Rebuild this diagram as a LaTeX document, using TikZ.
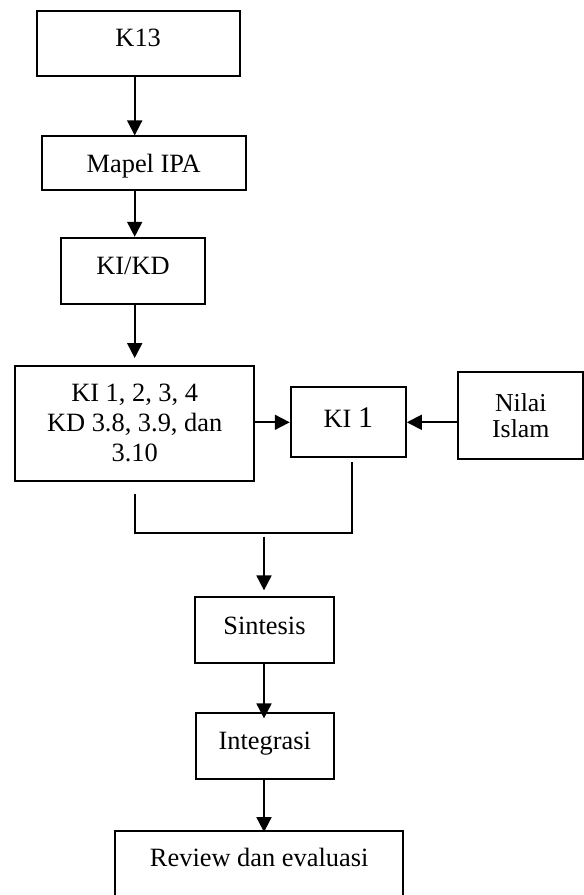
\documentclass[tikz,border=0pt]{standalone}
\usepackage{fontspec}
\setmainfont{Liberation Serif}
\usetikzlibrary{arrows.meta}

\begin{document}
\begin{tikzpicture}[x=.5pt, y=-.5pt,
    box/.style={draw, line width=.9pt, inner sep=0pt, align=center,
        font=\fontsize{13.2}{15}\selectfont},
    onebox/.style={box, text height=9pt, text depth=#1},
    onebox/.default=0pt,
    arr/.style={line width=.9pt, -{Triangle[length=7.5pt,width=7.5pt]}},
]

    \useasboundingbox (0,0) rectangle (584,895);
    \clip (0,0) rectangle (584,895);

    \node[onebox=6pt, minimum width=101.5pt, minimum height=32.8pt] (k13) at (138.2,43.5) {K13};
    \node[onebox, minimum width=102pt, minimum height=26.85pt] (mapel) at (143.7,163.2) {Mapel IPA};
    \node[onebox=5.7pt, minimum width=72.3pt, minimum height=33pt] (kikd) at (133,270.7) {KI/KD};
    \node[box, minimum width=119.65pt, minimum height=57.35pt] (kikdall) at (134.7,423.3)
        {KI 1, 2, 3, 4\\KD 3.8, 3.9, dan\\3.10};
    \node[onebox=3.5pt, minimum width=57.65pt, minimum height=35pt] (ki1) at (348.3,422.3)
        {KI {\fontsize{15}{15}\selectfont 1}};
    \node[box, font=\fontsize{12.9}{12.85}\selectfont, minimum width=62.5pt, minimum height=43.8pt]
        (nilai) at (520.8,415.5) {Nilai\\Islam};
    \node[onebox=5pt, minimum width=69.5pt, minimum height=33pt] (sintesis) at (264.5,630.3) {Sintesis};
    \node[onebox=5.5pt, minimum width=69.15pt, minimum height=32.7pt] (integrasi) at (264.8,746) {Integrasi};
    \node[onebox=9.2pt, minimum width=144.15pt, minimum height=36pt] (review) at (259.2,867)
        {Review dan evaluasi};

    \draw[arr] (k13.south -| kikdall.north) -- (mapel.north -| kikdall.north);
    \draw[arr] (mapel.south -| kikdall.north) -- (kikd.north -| kikdall.north);
    \draw[arr, shorten >=3.5pt] (kikd.south -| kikdall.north) -- (kikdall.north);
    \draw[arr] (kikdall.east |- ki1.west) -- (ki1.west);
    \draw[arr] (nilai.west |- ki1.east) -- (ki1.east);

    \coordinate (merge) at (264,533.3);
    \draw[line width=.9pt] ([yshift=-6pt]kikdall.south) |- (merge)
        -| ([xshift=2pt,yshift=-1.7pt]ki1.south);
    \draw[arr] ([yshift=-1.7pt]merge) -- ([yshift=3pt]merge |- sintesis.north);
    \draw[arr, shorten >=-3pt] (merge |- sintesis.south) -- (merge |- integrasi.north);
    \draw[arr, shorten >=-1pt] (merge |- integrasi.south) -- (merge |- review.north);

\end{tikzpicture}
\end{document}
